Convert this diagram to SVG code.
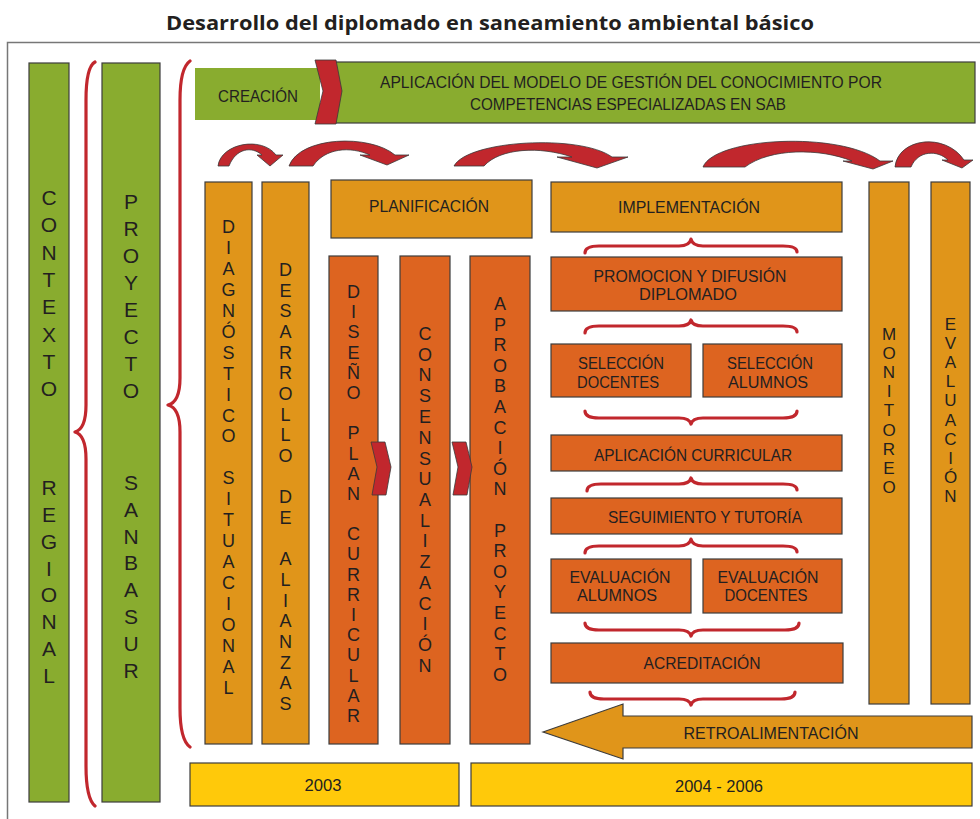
<svg xmlns="http://www.w3.org/2000/svg" width="980" height="819" viewBox="0 0 980 819">
<style>
.bx{stroke:#3c3c3c;stroke-width:1.2}
.g{fill:#89AC2F}.o{fill:#E0951A}.r{fill:#DD6420}.y{fill:#FFC90A}
.red{fill:#C1272D;stroke:#3a3a3a;stroke-width:0.8}
.br{fill:none;stroke:#C1272D;stroke-width:3.2;stroke-linecap:round;stroke-linejoin:round}
text{font-family:"Liberation Sans",Arial,sans-serif;fill:#231F20;text-anchor:middle}
.t{font-size:17px}
.t2{font-size:16px}
.v{font-size:18px}
.vs{font-size:17px}
.vb{font-size:21px}
</style>
<rect width="980" height="819" fill="#fff"/>
<text x="490" y="30" font-size="20" font-weight="bold" style="font-family:'Open Sans','Liberation Sans',sans-serif" textLength="648" lengthAdjust="spacingAndGlyphs">Desarrollo del diplomado en saneamiento ambiental básico</text>
<rect x="7.5" y="42.5" width="1000" height="800" fill="none" stroke="#777" stroke-width="1.5"/>

<g id="contexto"><rect class="bx g" x="29" y="63" width="40" height="739"/>
<text class="vb"><tspan x="49" y="205">C</tspan><tspan x="49" y="232">O</tspan><tspan x="49" y="260">N</tspan><tspan x="49" y="287">T</tspan><tspan x="49" y="314">E</tspan><tspan x="49" y="342">X</tspan><tspan x="49" y="369">T</tspan><tspan x="49" y="396">O</tspan><tspan x="49" y="495">R</tspan><tspan x="49" y="522">E</tspan><tspan x="49" y="549">G</tspan><tspan x="49" y="576">I</tspan><tspan x="49" y="602">O</tspan><tspan x="49" y="629">N</tspan><tspan x="49" y="656">A</tspan><tspan x="49" y="683">L</tspan></text></g>

<g id="proyecto"><rect class="bx g" x="102" y="63" width="58" height="739"/>
<text class="vb"><tspan x="131" y="209">P</tspan><tspan x="131" y="236">R</tspan><tspan x="131" y="263">O</tspan><tspan x="131" y="290">Y</tspan><tspan x="131" y="317">E</tspan><tspan x="131" y="344">C</tspan><tspan x="131" y="371">T</tspan><tspan x="131" y="398">O</tspan><tspan x="131" y="490">S</tspan><tspan x="131" y="517">A</tspan><tspan x="131" y="544">N</tspan><tspan x="131" y="570">B</tspan><tspan x="131" y="597">A</tspan><tspan x="131" y="624">S</tspan><tspan x="131" y="651">U</tspan><tspan x="131" y="678">R</tspan></text></g>

<g id="aplicacion-modelo"><rect class="bx g" x="330" y="62" width="645" height="61"/>
<text class="t2" x="631" y="88" textLength="502" lengthAdjust="spacingAndGlyphs">APLICACIÓN DEL MODELO DE GESTIÓN DEL CONOCIMIENTO POR</text>
<text class="t2" x="628" y="110" textLength="316" lengthAdjust="spacingAndGlyphs">COMPETENCIAS ESPECIALIZADAS EN SAB</text></g>

<g id="creacion"><rect class="g" x="195" y="68" width="125" height="52"/>
<text class="t" x="258" y="102" textLength="80" lengthAdjust="spacingAndGlyphs">CREACIÓN</text></g>

<g id="diagnostico"><rect class="bx o" x="205" y="182" width="47" height="562"/>
<text class="v"><tspan x="228.5" y="233">D</tspan><tspan x="228.5" y="254">I</tspan><tspan x="228.5" y="275">A</tspan><tspan x="228.5" y="296">G</tspan><tspan x="228.5" y="317">N</tspan><tspan x="228.5" y="338">Ó</tspan><tspan x="228.5" y="359">S</tspan><tspan x="228.5" y="380">T</tspan><tspan x="228.5" y="401">I</tspan><tspan x="228.5" y="422">C</tspan><tspan x="228.5" y="442">O</tspan><tspan x="228.5" y="484">S</tspan><tspan x="228.5" y="505">I</tspan><tspan x="228.5" y="526">T</tspan><tspan x="228.5" y="547">U</tspan><tspan x="228.5" y="568">A</tspan><tspan x="228.5" y="589">C</tspan><tspan x="228.5" y="610">I</tspan><tspan x="228.5" y="631">O</tspan><tspan x="228.5" y="652">N</tspan><tspan x="228.5" y="673">A</tspan><tspan x="228.5" y="694">L</tspan></text></g>

<g id="alianzas"><rect class="bx o" x="262" y="182" width="47" height="562"/>
<text class="v"><tspan x="285.5" y="276">D</tspan><tspan x="285.5" y="297">E</tspan><tspan x="285.5" y="317">S</tspan><tspan x="285.5" y="338">A</tspan><tspan x="285.5" y="359">R</tspan><tspan x="285.5" y="379">R</tspan><tspan x="285.5" y="400">O</tspan><tspan x="285.5" y="421">L</tspan><tspan x="285.5" y="441">L</tspan><tspan x="285.5" y="462">O</tspan><tspan x="285.5" y="503">D</tspan><tspan x="285.5" y="524">E</tspan><tspan x="285.5" y="565">A</tspan><tspan x="285.5" y="586">L</tspan><tspan x="285.5" y="607">I</tspan><tspan x="285.5" y="627">A</tspan><tspan x="285.5" y="648">N</tspan><tspan x="285.5" y="669">Z</tspan><tspan x="285.5" y="689">A</tspan><tspan x="285.5" y="710">S</tspan></text></g>

<g id="planificacion"><rect class="bx o" x="331" y="180" width="201" height="58"/>
<text class="t" x="429" y="212" textLength="120" lengthAdjust="spacingAndGlyphs">PLANIFICACIÓN</text></g>

<g id="diseno"><rect class="bx r" x="329" y="256" width="49" height="488"/>
<text class="v"><tspan x="353.5" y="298">D</tspan><tspan x="353.5" y="318">I</tspan><tspan x="353.5" y="338">S</tspan><tspan x="353.5" y="359">E</tspan><tspan x="353.5" y="379">Ñ</tspan><tspan x="353.5" y="399">O</tspan><tspan x="353.5" y="439">P</tspan><tspan x="353.5" y="460">L</tspan><tspan x="353.5" y="480">A</tspan><tspan x="353.5" y="500">N</tspan><tspan x="353.5" y="540">C</tspan><tspan x="353.5" y="560">U</tspan><tspan x="353.5" y="581">R</tspan><tspan x="353.5" y="601">R</tspan><tspan x="353.5" y="621">I</tspan><tspan x="353.5" y="641">C</tspan><tspan x="353.5" y="661">U</tspan><tspan x="353.5" y="682">L</tspan><tspan x="353.5" y="702">A</tspan><tspan x="353.5" y="722">R</tspan></text></g>

<g id="consensualizacion"><rect class="bx r" x="400" y="256" width="50" height="488"/>
<text class="v"><tspan x="425" y="340">C</tspan><tspan x="425" y="361">O</tspan><tspan x="425" y="381">N</tspan><tspan x="425" y="402">S</tspan><tspan x="425" y="423">E</tspan><tspan x="425" y="444">N</tspan><tspan x="425" y="465">S</tspan><tspan x="425" y="485">U</tspan><tspan x="425" y="506">A</tspan><tspan x="425" y="527">L</tspan><tspan x="425" y="547">I</tspan><tspan x="425" y="568">Z</tspan><tspan x="425" y="589">A</tspan><tspan x="425" y="610">C</tspan><tspan x="425" y="630">I</tspan><tspan x="425" y="651">Ó</tspan><tspan x="425" y="672">N</tspan></text></g>

<g id="aprobacion"><rect class="bx r" x="470" y="256" width="60" height="488"/>
<text class="v"><tspan x="500" y="310">A</tspan><tspan x="500" y="331">P</tspan><tspan x="500" y="351">R</tspan><tspan x="500" y="372">O</tspan><tspan x="500" y="392">B</tspan><tspan x="500" y="413">A</tspan><tspan x="500" y="434">C</tspan><tspan x="500" y="454">I</tspan><tspan x="500" y="475">Ó</tspan><tspan x="500" y="495">N</tspan><tspan x="500" y="537">P</tspan><tspan x="500" y="557">R</tspan><tspan x="500" y="578">O</tspan><tspan x="500" y="598">Y</tspan><tspan x="500" y="619">E</tspan><tspan x="500" y="640">C</tspan><tspan x="500" y="660">T</tspan><tspan x="500" y="681">O</tspan></text></g>

<g id="implementacion"><rect class="bx o" x="551" y="182" width="291" height="50"/>
<text class="t" x="689" y="213" textLength="142" lengthAdjust="spacingAndGlyphs">IMPLEMENTACIÓN</text></g>

<g id="promocion"><rect class="bx r" x="551" y="257" width="291" height="54"/>
<text class="t2" x="690" y="282" textLength="193" lengthAdjust="spacingAndGlyphs">PROMOCION Y DIFUSIÓN</text>
<text class="t2" x="688" y="300" textLength="98" lengthAdjust="spacingAndGlyphs">DIPLOMADO</text></g>

<g id="seleccion-docentes"><rect class="bx r" x="551" y="344" width="140" height="53"/>
<text class="t2" x="621" y="369" textLength="86" lengthAdjust="spacingAndGlyphs">SELECCIÓN</text>
<text class="t2" x="618" y="388" textLength="82" lengthAdjust="spacingAndGlyphs">DOCENTES</text></g>

<g id="seleccion-alumnos"><rect class="bx r" x="703" y="344" width="139" height="53"/>
<text class="t2" x="770" y="369" textLength="86" lengthAdjust="spacingAndGlyphs">SELECCIÓN</text>
<text class="t2" x="768" y="388" textLength="80" lengthAdjust="spacingAndGlyphs">ALUMNOS</text></g>

<g id="aplicacion-curricular"><rect class="bx r" x="551" y="435" width="291" height="36"/>
<text class="t" x="693" y="461" textLength="198" lengthAdjust="spacingAndGlyphs">APLICACIÓN CURRICULAR</text></g>

<g id="seguimiento"><rect class="bx r" x="551" y="498" width="291" height="36"/>
<text class="t" x="705" y="523" textLength="194" lengthAdjust="spacingAndGlyphs">SEGUIMIENTO Y TUTORÍA</text></g>

<g id="evaluacion-alumnos"><rect class="bx r" x="551" y="559" width="140" height="54"/>
<text class="t2" x="620" y="583" textLength="101" lengthAdjust="spacingAndGlyphs">EVALUACIÓN</text>
<text class="t2" x="617" y="601" textLength="80" lengthAdjust="spacingAndGlyphs">ALUMNOS</text></g>

<g id="evaluacion-docentes"><rect class="bx r" x="703" y="559" width="139" height="54"/>
<text class="t2" x="768" y="583" textLength="101" lengthAdjust="spacingAndGlyphs">EVALUACIÓN</text>
<text class="t2" x="766" y="601" textLength="83" lengthAdjust="spacingAndGlyphs">DOCENTES</text></g>

<g id="acreditacion"><rect class="bx r" x="551" y="643" width="292" height="40"/>
<text class="t" x="702" y="669" textLength="117" lengthAdjust="spacingAndGlyphs">ACREDITACIÓN</text></g>

<g id="monitoreo"><rect class="bx o" x="869" y="182" width="40" height="522"/>
<text class="vs"><tspan x="889" y="340">M</tspan><tspan x="889" y="359">O</tspan><tspan x="889" y="378">N</tspan><tspan x="889" y="397">I</tspan><tspan x="889" y="416">T</tspan><tspan x="889" y="436">O</tspan><tspan x="889" y="455">R</tspan><tspan x="889" y="474">E</tspan><tspan x="889" y="493">O</tspan></text></g>

<g id="evaluacion"><rect class="bx o" x="931" y="182" width="39" height="522"/>
<text class="vs"><tspan x="950.5" y="330">E</tspan><tspan x="950.5" y="349">V</tspan><tspan x="950.5" y="368">A</tspan><tspan x="950.5" y="387">L</tspan><tspan x="950.5" y="406">U</tspan><tspan x="950.5" y="426">A</tspan><tspan x="950.5" y="445">C</tspan><tspan x="950.5" y="464">I</tspan><tspan x="950.5" y="483">Ó</tspan><tspan x="950.5" y="502">N</tspan></text></g>

<g id="retroalimentacion"><polygon class="bx o" points="543,732 623,704 623,716 972,716 972,748 623,748 623,759"/>
<text class="t" x="771" y="739" textLength="175" lengthAdjust="spacingAndGlyphs">RETROALIMENTACIÓN</text></g>

<g id="y2003"><rect class="bx y" x="190" y="763" width="269" height="43"/>
<text class="t" x="323" y="791" textLength="37" lengthAdjust="spacingAndGlyphs">2003</text></g>

<g id="y2004"><rect class="bx y" x="471" y="763" width="501" height="43"/>
<text class="t" x="719" y="792" textLength="88" lengthAdjust="spacingAndGlyphs">2004 - 2006</text></g>

<g id="connectors">
<polygon class="red" points="315,60 336,60 342,91 336,124 315,124 323,91"/>
<polygon class="red" points="371,442 385,442 391,467 386,495 372,495 377,467"/>
<polygon class="red" points="452,442 466,442 472,467 467,495 453,495 458,467"/>
<path class="red" d="M218,166 C221,143 262,136 276,155 L283,155 L270,166 L257,155 L262,155 C252,146 236,148 229,166 Z"/>
<path class="red" d="M289,166 C300,136 370,134 395,155 L409,155 L387,165 L360,155 L370,155 C350,146 325,148 313,166 Z"/>
<path class="red" d="M454,166 C468,140 580,134 612,157 L628,157 L597,168 L557,157 L572,157 C540,146 500,148 484,166 Z"/>
<path class="red" d="M703,167 C715,137 840,131 880,161 L893,161 L873,169 L843,161 L852,161 C820,148 770,148 745,167 Z"/>
<path class="red" d="M895,167 C898,138 945,132 964,160 L973,160 L962,168 L942,160 L948,160 C938,150 918,150 911,167 Z"/>
<path class="br" d="M95,62 C88,66 86,80 86,100 L86,405 C86,422 82,430 75,432 C82,434 86,442 86,459 L86,766 C86,786 88,800 95,806"/>
<path class="br" d="M190,61 C183,66 180,80 180,100 L180,378 C180,395 176,403 168,405 C176,407 180,415 180,432 L180,708 C180,728 183,742 190,747"/>
<path class="br" d="M585,253 C585,248 591,246 599,246 L679,246 C686,246 690,244 691,239 C692,244 696,246 703,246 L783,246 C791,246 797,248 797,252"/>
<path class="br" d="M585,333 C585,328 591,326 599,326 L679,326 C686,326 690,324 691,320 C692,324 696,326 703,326 L783,326 C791,326 797,328 797,332"/>
<path class="br" d="M585,411 C585,416 591,418 599,418 L679,418 C686,418 690,420 691,424 C692,420 696,418 703,418 L783,418 C791,418 797,416 797,411"/>
<path class="br" d="M587,491 C587,486 593,484 601,484 L679,484 C686,484 690,482 691,478 C692,482 696,484 703,484 L783,484 C791,484 797,486 797,490"/>
<path class="br" d="M585,553 C585,548 591,546 599,546 L679,546 C686,546 690,544 691,539 C692,544 696,546 703,546 L783,546 C791,546 797,548 797,552"/>
<path class="br" d="M585,623 C585,628 591,630 599,630 L679,630 C686,630 690,632 691,636 C692,632 696,630 703,630 L785,630 C793,630 799,628 799,623"/>
<path class="br" d="M590,692 C590,697 596,699 604,699 L679,699 C686,699 690,701 691,705 C692,701 696,699 703,699 L781,699 C789,699 795,697 795,692"/>
</g>
</svg>
